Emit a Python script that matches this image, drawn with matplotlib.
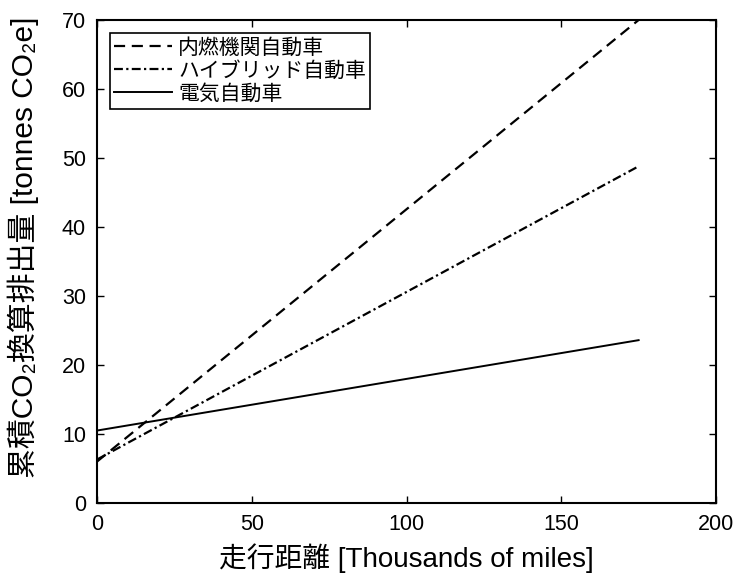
import matplotlib
matplotlib.use("Agg")
import matplotlib.pyplot as plt

distance = [0, 175]
ice = [6.0, 70.0]
hybrid = [6.3, 48.8]
ev = [10.5, 23.6]
labels = ["内燃機関自動車", "ハイブリッド自動車", "電気自動車"]
xticks = [0, 50, 100, 150, 200]
yticks = [0, 10, 20, 30, 40, 50, 60, 70]

plt.rcParams['font.family'] = ['Liberation Sans', 'Noto Sans CJK JP', 'DejaVu Sans']

fig = plt.figure(figsize=(7.4, 5.81), dpi=100)
ax = fig.add_axes([97/740, 1-503/581, (716-97)/740, (503-20)/581])

ax.plot(distance, ice, color='black', linestyle=(0, (5, 3)), linewidth=1.6, label=labels[0])
ax.plot(distance, hybrid, color='black', linestyle=(0, (4, 1.5, 1, 1.5)), linewidth=1.6, label=labels[1])
ax.plot(distance, ev, color='black', linestyle='-', linewidth=1.4, label=labels[2])

ax.set_xlim(0, 200)
ax.set_ylim(0, 70)
ax.set_xticks(xticks)
ax.set_yticks(yticks)
ax.tick_params(direction='in', top=True, right=True, labelsize=15.5, length=5, width=1, pad=8)
for s in ax.spines.values():
    s.set_linewidth(1.5)

ax.set_xlabel("走行距離 [Thousands of miles]", fontsize=20, labelpad=6)
ax.set_ylabel("累積CO₂換算排出量 [tonnes CO₂e]", fontsize=21.5)
ax.yaxis.set_label_coords(-0.094, 0.53)

leg = ax.legend(loc='upper left', prop={'family': ['Noto Sans CJK JP'], 'size': 15},
                frameon=True, fancybox=False, edgecolor='black', framealpha=1,
                handlelength=2.8, handletextpad=0.3, borderpad=0.2, labelspacing=0.05,
                borderaxespad=0.6)
leg.get_frame().set_linewidth(1.2)

fig.savefig("out.png", dpi=100)
